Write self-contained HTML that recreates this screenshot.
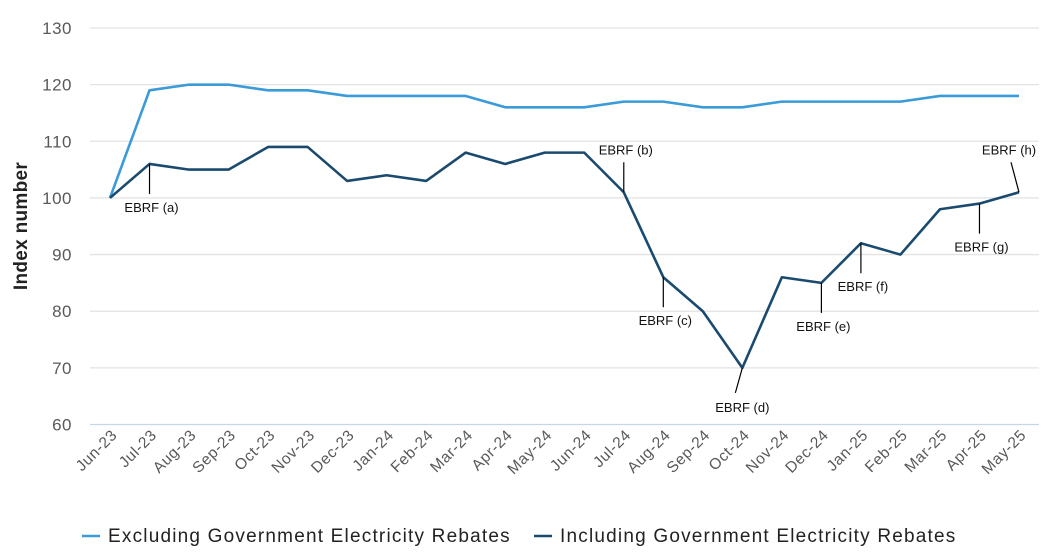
<!DOCTYPE html>
<html><head><meta charset="utf-8"><style>
body{margin:0;background:#fff;font-family:"Liberation Sans",sans-serif}
svg text{font-family:"Liberation Sans",sans-serif}
</style></head><body>
<svg id="c" width="1048" height="555"></svg>
<script>
const categories=["Jun-23","Jul-23","Aug-23","Sep-23","Oct-23","Nov-23","Dec-23","Jan-24","Feb-24","Mar-24","Apr-24","May-24","Jun-24","Jul-24","Aug-24","Sep-24","Oct-24","Nov-24","Dec-24","Jan-25","Feb-25","Mar-25","Apr-25","May-25"];
const excluding=[100,119,120,120,119,119,118,118,118,118,116,116,116,117,117,116,116,117,117,117,117,118,118,118];
const including=[100,106,105,105,109,109,103,104,103,108,106,108,108,101,86,80,70,86,85,92,90,98,99,101];
const yTicks=[60,70,80,90,100,110,120,130];
const annLabels=["EBRF (a)","EBRF (b)","EBRF (c)","EBRF (d)","EBRF (e)","EBRF (f)","EBRF (g)","EBRF (h)"];
const annIdx=[1,13,14,16,18,19,22,23];
const annDir=[1,-1,1,1,1,1,1,-1];
const NS="http://www.w3.org/2000/svg";
const svg=document.getElementById('c');
const x=i=>110+i*(1019-110)/(categories.length-1);
const y=v=>424.5-(v-60)*(424.5-28)/70;
function el(t,a,p){const e=document.createElementNS(NS,t);for(const k in a)e.setAttribute(k,a[k]);(p||svg).appendChild(e);return e;}
yTicks.forEach(v=>{
 const g=el('line',{x1:90,x2:1039,y1:y(v),y2:y(v),stroke:v===60?'#c5d6ea':'#e3e3e3','stroke-width':1.3});
 
 
 const t=el('text',{x:72,y:y(v)+6,'text-anchor':'end','font-size':17,'letter-spacing':0.5,fill:'#595959'});t.textContent=v;
 
 
});
const yt=el('text',{transform:'translate(27,226) rotate(-90)','text-anchor':'middle','font-size':19,'font-weight':'bold','letter-spacing':0.3,fill:'#222'});yt.textContent='Index number';


categories.forEach((c,i)=>{
 const t=el('text',{transform:`translate(${x(i)+8},${436}) rotate(-45)`,'text-anchor':'end','font-size':15.5,'letter-spacing':0.6,fill:'#595959'});t.textContent=c;
 
 
});
function line(data,color,name){
 const p=el('polyline',{points:data.map((v,i)=>x(i)+','+y(v)).join(' '),fill:'none',stroke:color,'stroke-width':2.6,'stroke-linejoin':'round'});
 
 
}
line(excluding,'#3b9ad8','series-excluding-rebates');
line(including,'#1b4a6f','series-including-rebates');
annIdx.forEach((i,k)=>{
 const px=x(i),py=y(including[i]),d=annDir[k];
 const l=el('line',{x1:px,y1:py,x2:k===3?px-7:(k===7?px-8:px),y2:py+d*(k===3?25:30),stroke:'#000','stroke-width':1.2});
 
 
 const ty=d>0?py+d*30+18:py-38;
 const tx=k===3?px:(k===7?px-10:px+2);
 const t=el('text',{x:tx,y:k===3?py+44:ty,'text-anchor':'middle','font-size':13,fill:'#111'});t.textContent=annLabels[k];
 
 
});
[['Excluding Government Electricity Rebates','#3b9ad8',82],['Including Government Electricity Rebates','#1b4a6f',534]].forEach((L,k)=>{
 const g=el('g',{});
 
 
 el('line',{x1:L[2],x2:L[2]+18,y1:536,y2:536,stroke:L[1],'stroke-width':2.6},g);
 const t=el('text',{x:L[2]+26,y:542,'font-size':19,'letter-spacing':1.2,fill:'#222'},g);t.textContent=L[0];
});
</script>
</body></html>
